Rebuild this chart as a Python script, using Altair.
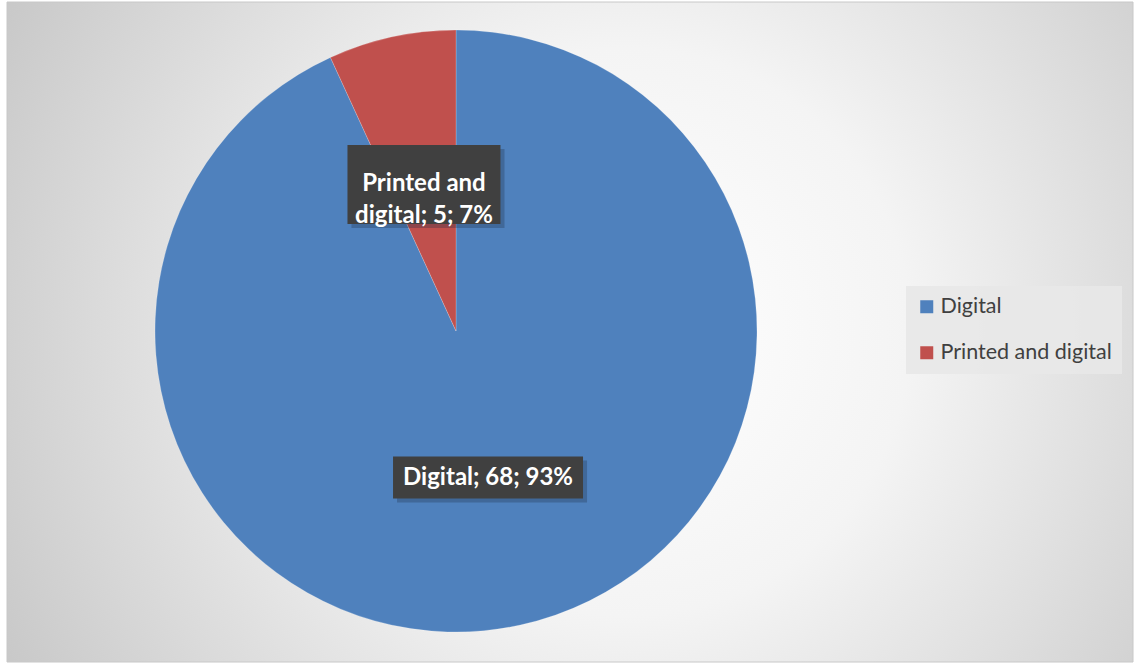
import altair as alt
import pandas as pd

categories = ["Digital", "Printed and digital"]
values = [68, 5]
label_lines = [["Digital; 68; 93%"], ["Printed and", "digital; 5; 7%"]]

colors = ["#4f81bd", "#c0504d"]

# layout / style constants
W, H = 1136, 666
CX, CY, R = 456, 331, 301
LABEL_R = 150
box_w = {"Digital": 190, "Printed and digital": 153}
box_h = {"Digital": 42, "Printed and digital": 79}

df = pd.DataFrame({
    "category": categories,
    "value": values,
    "idx": list(range(len(categories))),
    "label": label_lines,
})
df["bw"] = df["category"].map(box_w)
df["bh"] = df["category"].map(box_h)

base = alt.Chart(df)

bg = alt.Chart(pd.DataFrame({"a": [0]})).mark_rect(
    color=alt.RadialGradient(
        gradient="radial", x1=0.55, y1=0.5, r1=0, x2=0.55, y2=0.5, r2=0.72,
        stops=[alt.GradientStop(offset=0, color="#ffffff"),
               alt.GradientStop(offset=0.35, color="#f4f4f4"),
               alt.GradientStop(offset=1, color="#bdbdbd")]),
    stroke="#c8c8c8", strokeWidth=1,
).encode(x=alt.value(7), x2=alt.value(1133), y=alt.value(2), y2=alt.value(662))

pie = base.mark_arc(outerRadius=R, stroke="#ffffff", strokeWidth=0.2).encode(
    theta=alt.Theta("value:Q", stack=True),
    order=alt.Order("idx:Q"),
    color=alt.Color("category:N",
                    scale=alt.Scale(domain=categories, range=colors),
                    legend=alt.Legend(
                        title=None, orient="none", legendX=906, legendY=286,
                        fillColor="rgba(232,232,232,0.9)", padding=10,
                        symbolType="square", symbolSize=169, symbolStrokeWidth=0,
                        labelFont="Lato", labelFontSize=21.5, labelColor="#404040",
                        rowPadding=23, labelOffset=3, symbolOffset=0,
                        labelLimit=300)),
    x=alt.value(CX), y=alt.value(CY),
)

pos = base.transform_joinaggregate(total="sum(value)").transform_window(
    cum="sum(value)", sort=[alt.SortField("idx")], frame=[None, 0]
).transform_calculate(
    mid="(datum.cum - datum.value/2) / datum.total * 2 * PI",
).transform_calculate(
    lx=f"{CX} + {LABEL_R} * sin(datum.mid)",
    ly=f"{CY} - {LABEL_R} * cos(datum.mid)",
).transform_calculate(
    bx1="datum.lx - datum.bw/2", bx2="datum.lx + datum.bw/2",
    by1="datum.ly - datum.bh/2", by2="datum.ly + datum.bh/2",
    sx1="datum.lx - datum.bw/2 + 4", sx2="datum.lx + datum.bw/2 + 4",
    sy1="datum.ly - datum.bh/2 + 4", sy2="datum.ly + datum.bh/2 + 4",
)

shadow = pos.mark_rect(color="#1f2f45", opacity=0.3).encode(
    x=alt.X("sx1:Q", scale=None, axis=None), x2="sx2:Q",
    y=alt.Y("sy1:Q", scale=None, axis=None), y2="sy2:Q",
)

boxes = pos.mark_rect(color="#404040").encode(
    x=alt.X("bx1:Q", scale=None, axis=None), x2="bx2:Q",
    y=alt.Y("by1:Q", scale=None, axis=None), y2="by2:Q",
)

texts = pos.mark_text(font="Lato", fontWeight="bold", fontSize=24, color="#ffffff",
                      align="center", baseline="middle", lineHeight=32).encode(
    x=alt.X("lx:Q", scale=None, axis=None),
    y=alt.Y("ly:Q", scale=None, axis=None),
    text="label",
)

chart = alt.layer(bg, pie, shadow, boxes, texts).properties(
    width=W, height=H, padding=0, autosize=alt.AutoSizeParams(type="none"),
    background="#ffffff",
).configure_view(stroke=None)

chart.save("out.html", embed_options={"renderer": "svg", "actions": False})
